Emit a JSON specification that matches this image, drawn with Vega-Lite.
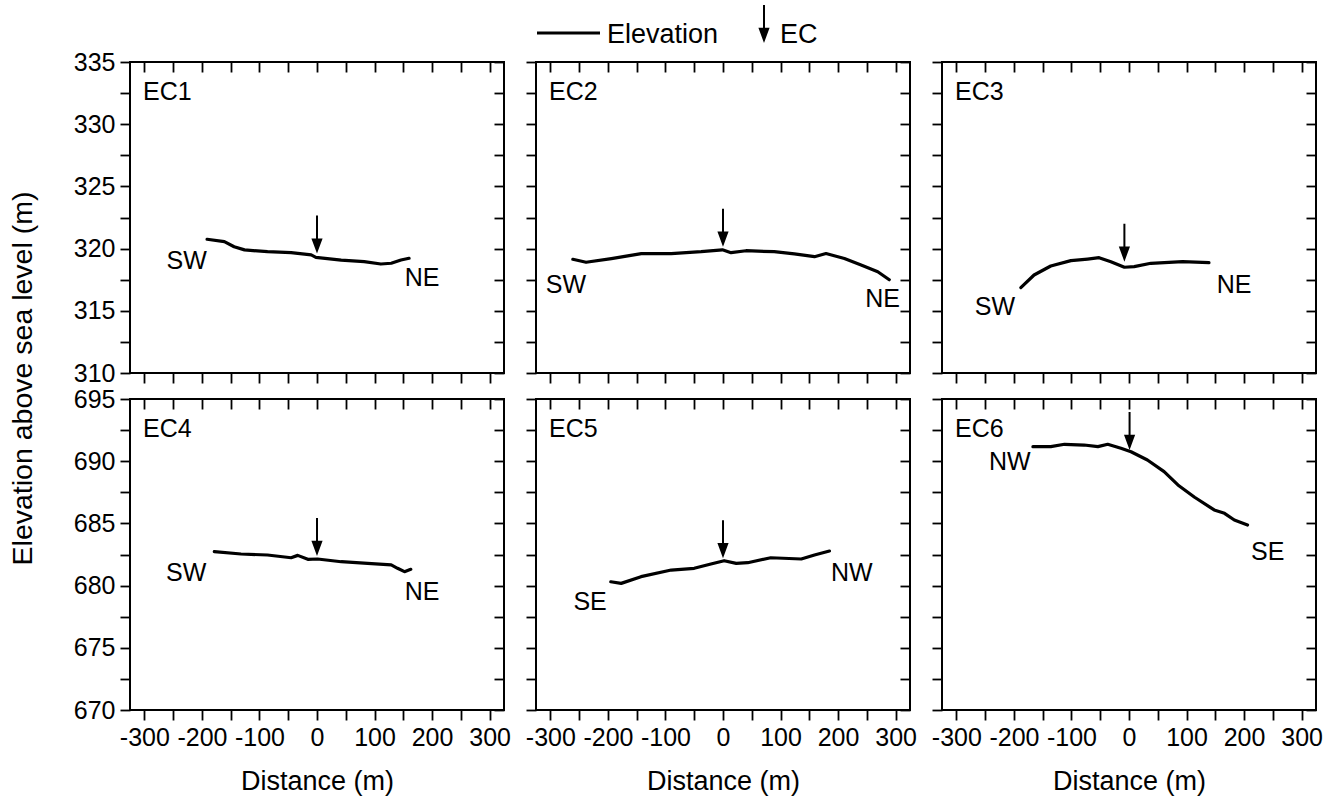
{
  "$schema": "https://vega.github.io/schema/vega-lite/v6.json",
  "padding": {"left": 7, "top": 23, "right": 5, "bottom": 5},
  "background": "white",
  "datasets": {
    "profile": [
      {"panel": "EC1", "d": -191, "elev": 320.75}, {"panel": "EC1", "d": -161, "elev": 320.56}, {"panel": "EC1", "d": -144, "elev": 320.15}, {"panel": "EC1", "d": -126, "elev": 319.9}, {"panel": "EC1", "d": -86, "elev": 319.75}, {"panel": "EC1", "d": -45, "elev": 319.67}, {"panel": "EC1", "d": -10, "elev": 319.49}, {"panel": "EC1", "d": -2, "elev": 319.3}, {"panel": "EC1", "d": 42, "elev": 319.08}, {"panel": "EC1", "d": 82, "elev": 318.95}, {"panel": "EC1", "d": 111, "elev": 318.76}, {"panel": "EC1", "d": 129, "elev": 318.82}, {"panel": "EC1", "d": 146, "elev": 319.08}, {"panel": "EC1", "d": 160, "elev": 319.22},
      {"panel": "EC2", "d": -261, "elev": 319.14}, {"panel": "EC2", "d": -238, "elev": 318.9}, {"panel": "EC2", "d": -194, "elev": 319.2}, {"panel": "EC2", "d": -142, "elev": 319.6}, {"panel": "EC2", "d": -90, "elev": 319.6}, {"panel": "EC2", "d": -38, "elev": 319.75}, {"panel": "EC2", "d": -1, "elev": 319.9}, {"panel": "EC2", "d": 14, "elev": 319.67}, {"panel": "EC2", "d": 40, "elev": 319.83}, {"panel": "EC2", "d": 89, "elev": 319.75}, {"panel": "EC2", "d": 124, "elev": 319.57}, {"panel": "EC2", "d": 159, "elev": 319.35}, {"panel": "EC2", "d": 179, "elev": 319.6}, {"panel": "EC2", "d": 211, "elev": 319.2}, {"panel": "EC2", "d": 240, "elev": 318.68}, {"panel": "EC2", "d": 269, "elev": 318.14}, {"panel": "EC2", "d": 289, "elev": 317.5},
      {"panel": "EC3", "d": -188, "elev": 316.86}, {"panel": "EC3", "d": -165, "elev": 317.88}, {"panel": "EC3", "d": -136, "elev": 318.6}, {"panel": "EC3", "d": -101, "elev": 319.03}, {"panel": "EC3", "d": -72, "elev": 319.16}, {"panel": "EC3", "d": -52, "elev": 319.27}, {"panel": "EC3", "d": -31.5, "elev": 318.95}, {"panel": "EC3", "d": -8, "elev": 318.5}, {"panel": "EC3", "d": 9, "elev": 318.55}, {"panel": "EC3", "d": 38, "elev": 318.82}, {"panel": "EC3", "d": 93, "elev": 318.95}, {"panel": "EC3", "d": 139, "elev": 318.87},
      {"panel": "EC4", "d": -178.5, "elev": 682.73}, {"panel": "EC4", "d": -132, "elev": 682.54}, {"panel": "EC4", "d": -86, "elev": 682.46}, {"panel": "EC4", "d": -45, "elev": 682.24}, {"panel": "EC4", "d": -33.5, "elev": 682.43}, {"panel": "EC4", "d": -16, "elev": 682.11}, {"panel": "EC4", "d": 1, "elev": 682.14}, {"panel": "EC4", "d": 42, "elev": 681.92}, {"panel": "EC4", "d": 88, "elev": 681.79}, {"panel": "EC4", "d": 129, "elev": 681.66}, {"panel": "EC4", "d": 140, "elev": 681.39}, {"panel": "EC4", "d": 152, "elev": 681.12}, {"panel": "EC4", "d": 163, "elev": 681.31},
      {"panel": "EC5", "d": -195, "elev": 680.31}, {"panel": "EC5", "d": -177, "elev": 680.18}, {"panel": "EC5", "d": -142.5, "elev": 680.72}, {"panel": "EC5", "d": -90, "elev": 681.25}, {"panel": "EC5", "d": -50, "elev": 681.39}, {"panel": "EC5", "d": -21, "elev": 681.74}, {"panel": "EC5", "d": 2, "elev": 682.0}, {"panel": "EC5", "d": 23, "elev": 681.79}, {"panel": "EC5", "d": 43, "elev": 681.84}, {"panel": "EC5", "d": 83, "elev": 682.24}, {"panel": "EC5", "d": 136, "elev": 682.14}, {"panel": "EC5", "d": 159, "elev": 682.46}, {"panel": "EC5", "d": 185, "elev": 682.78},
      {"panel": "EC6", "d": -167, "elev": 691.17}, {"panel": "EC6", "d": -136, "elev": 691.17}, {"panel": "EC6", "d": -112, "elev": 691.36}, {"panel": "EC6", "d": -78, "elev": 691.3}, {"panel": "EC6", "d": -54, "elev": 691.17}, {"panel": "EC6", "d": -37, "elev": 691.36}, {"panel": "EC6", "d": -14, "elev": 691.04}, {"panel": "EC6", "d": 3.5, "elev": 690.76}, {"panel": "EC6", "d": 32, "elev": 690.1}, {"panel": "EC6", "d": 61, "elev": 689.16}, {"panel": "EC6", "d": 85, "elev": 688.09}, {"panel": "EC6", "d": 114, "elev": 687.1}, {"panel": "EC6", "d": 148, "elev": 686.08}, {"panel": "EC6", "d": 166, "elev": 685.81}, {"panel": "EC6", "d": 183, "elev": 685.27}, {"panel": "EC6", "d": 206, "elev": 684.87}
    ],
    "arrows": [
      {"panel": "EC1", "d": 0, "elev": 319.6, "kind": "EC"},
      {"panel": "EC2", "d": 0, "elev": 320.15, "kind": "EC"},
      {"panel": "EC3", "d": -8, "elev": 318.95, "kind": "EC"},
      {"panel": "EC4", "d": 0, "elev": 682.38, "kind": "EC"},
      {"panel": "EC5", "d": 0, "elev": 682.2, "kind": "EC"},
      {"panel": "EC6", "d": 1, "elev": 690.9, "kind": "EC"}
    ],
    "labels": [
      {"panel": "EC1", "d": -260, "elev": 332.6, "label": "EC1"}, {"panel": "EC1", "d": -226.5, "elev": 319.0, "label": "SW"}, {"panel": "EC1", "d": 182.5, "elev": 317.6, "label": "NE"},
      {"panel": "EC2", "d": -260, "elev": 332.6, "label": "EC2"}, {"panel": "EC2", "d": -273, "elev": 317.1, "label": "SW"}, {"panel": "EC2", "d": 277.5, "elev": 315.95, "label": "NE"},
      {"panel": "EC3", "d": -260, "elev": 332.6, "label": "EC3"}, {"panel": "EC3", "d": -233, "elev": 315.33, "label": "SW"}, {"panel": "EC3", "d": 182.5, "elev": 317.07, "label": "NE"},
      {"panel": "EC4", "d": -260, "elev": 692.6, "label": "EC4"}, {"panel": "EC4", "d": -227.5, "elev": 681.0, "label": "SW"}, {"panel": "EC4", "d": 182.5, "elev": 679.5, "label": "NE"},
      {"panel": "EC5", "d": -260, "elev": 692.6, "label": "EC5"}, {"panel": "EC5", "d": -231, "elev": 678.7, "label": "SE"}, {"panel": "EC5", "d": 224, "elev": 681.05, "label": "NW"},
      {"panel": "EC6", "d": -260, "elev": 692.6, "label": "EC6"}, {"panel": "EC6", "d": -207, "elev": 689.9, "label": "NW"}, {"panel": "EC6", "d": 241, "elev": 682.7, "label": "SE"}
    ]
  },
  "columns": 3,
  "bounds": "flush",
  "spacing": {"row": 26, "column": 32},
  "resolve": {"scale": {"shape": "shared"}, "legend": {"shape": "shared"}},
  "concat": [
    {
      "width": 374, "height": 311,
      "layer": [
        {"data": {"name": "profile"}, "transform": [{"filter": "datum.panel === 'EC1'"}],
         "mark": {"type": "line", "color": "black", "strokeWidth": 3.2, "strokeJoin": "round", "strokeCap": "round"},
         "encoding": {
           "x": {"field": "d", "type": "quantitative", "scale": {"domain": [-325, 325], "nice": false, "zero": false}, "axis": {"orient": "bottom", "values": [-300,-250,-200,-150,-100,-50,0,50,100,150,200,250,300], "labels": false, "title": null}},
           "y": {"field": "elev", "type": "quantitative", "scale": {"domain": [310, 335], "nice": false, "zero": false}, "axis": {"orient": "left", "values": [310,312.5,315,317.5,320,322.5,325,327.5,330,332.5,335], "labelExpr": "datum.value % 5 === 0 ? '' + datum.value : ''", "labelOverlap": false, "title": "Elevation above sea level (m)", "titleY": 316}}
         }},
        {"data": {"name": "arrows"}, "transform": [{"filter": "datum.panel === 'EC1'"}],
         "mark": {"type": "point", "filled": true, "color": "black", "strokeWidth": 0, "size": 1600, "opacity": 1},
         "encoding": {
           "x": {"field": "d", "type": "quantitative", "scale": {"domain": [-325, 325], "nice": false, "zero": false}, "axis": {"orient": "top", "values": [-300,-250,-200,-150,-100,-50,0,50,100,150,200,250,300], "labels": false, "title": null, "tickSize": -10}},
           "y": {"field": "elev", "type": "quantitative", "scale": {"domain": [310, 335], "nice": false, "zero": false}, "axis": {"orient": "right", "values": [310,312.5,315,317.5,320,322.5,325,327.5,330,332.5,335], "labels": false, "title": null, "tickSize": -10}},
           "shape": {"field": "kind", "type": "nominal", "scale": {"domain": ["Elevation", "EC"], "range": ["M-2.7,-0.58L0.45,-0.58L0.45,-0.42L-2.7,-0.42Z", "M-0.05,-1.9L0.05,-1.9L0.05,-0.7L-0.05,-0.7ZM-0.28,-0.76L0.28,-0.76L0,0Z"]},
             "legend": {"title": null, "orient": "none", "legendX": 441, "legendY": -39, "direction": "horizontal", "symbolSize": 1600, "labelOffset": -4, "columnPadding": 25, "labelFont": "Liberation Sans", "labelFontSize": 27, "labelColor": "black", "labelBaseline": "alphabetic", "symbolOpacity": 1, "symbolFillColor": "black", "symbolStrokeWidth": 0}}
         }},
        {"data": {"name": "labels"}, "transform": [{"filter": "datum.panel === 'EC1'"}],
         "mark": {"type": "text", "font": "Liberation Sans", "fontSize": 25, "color": "black", "align": "center", "baseline": "middle"},
         "encoding": {
           "x": {"field": "d", "type": "quantitative", "scale": {"domain": [-325, 325], "nice": false, "zero": false}, "axis": null},
           "y": {"field": "elev", "type": "quantitative", "scale": {"domain": [310, 335], "nice": false, "zero": false}, "axis": null},
           "text": {"field": "label"}
         }}
      ],
      "resolve": {"axis": {"x": "independent", "y": "independent"}}
    },
    {
      "width": 374, "height": 311,
      "layer": [
        {"data": {"name": "profile"}, "transform": [{"filter": "datum.panel === 'EC2'"}],
         "mark": {"type": "line", "color": "black", "strokeWidth": 3.2, "strokeJoin": "round", "strokeCap": "round"},
         "encoding": {
           "x": {"field": "d", "type": "quantitative", "scale": {"domain": [-325, 325], "nice": false, "zero": false}, "axis": {"orient": "bottom", "values": [-300,-250,-200,-150,-100,-50,0,50,100,150,200,250,300], "labels": false, "title": null}},
           "y": {"field": "elev", "type": "quantitative", "scale": {"domain": [310, 335], "nice": false, "zero": false}, "axis": {"orient": "left", "values": [310,312.5,315,317.5,320,322.5,325,327.5,330,332.5,335], "labels": false, "title": null}}
         }},
        {"data": {"name": "arrows"}, "transform": [{"filter": "datum.panel === 'EC2'"}],
         "mark": {"type": "point", "filled": true, "color": "black", "strokeWidth": 0, "size": 1600, "opacity": 1},
         "encoding": {
           "x": {"field": "d", "type": "quantitative", "scale": {"domain": [-325, 325], "nice": false, "zero": false}, "axis": {"orient": "top", "values": [-300,-250,-200,-150,-100,-50,0,50,100,150,200,250,300], "labels": false, "title": null, "tickSize": -10}},
           "y": {"field": "elev", "type": "quantitative", "scale": {"domain": [310, 335], "nice": false, "zero": false}, "axis": {"orient": "right", "values": [310,312.5,315,317.5,320,322.5,325,327.5,330,332.5,335], "labels": false, "title": null, "tickSize": -10}},
           "shape": {"field": "kind", "type": "nominal", "scale": {"domain": ["Elevation", "EC"], "range": ["M-2.7,-0.58L0.45,-0.58L0.45,-0.42L-2.7,-0.42Z", "M-0.05,-1.9L0.05,-1.9L0.05,-0.7L-0.05,-0.7ZM-0.28,-0.76L0.28,-0.76L0,0Z"]},
             "legend": {"title": null, "orient": "none", "legendX": 441, "legendY": -39, "direction": "horizontal", "symbolSize": 1600, "labelOffset": -4, "columnPadding": 25, "labelFont": "Liberation Sans", "labelFontSize": 27, "labelColor": "black", "labelBaseline": "alphabetic", "symbolOpacity": 1, "symbolFillColor": "black", "symbolStrokeWidth": 0}}
         }},
        {"data": {"name": "labels"}, "transform": [{"filter": "datum.panel === 'EC2'"}],
         "mark": {"type": "text", "font": "Liberation Sans", "fontSize": 25, "color": "black", "align": "center", "baseline": "middle"},
         "encoding": {
           "x": {"field": "d", "type": "quantitative", "scale": {"domain": [-325, 325], "nice": false, "zero": false}, "axis": null},
           "y": {"field": "elev", "type": "quantitative", "scale": {"domain": [310, 335], "nice": false, "zero": false}, "axis": null},
           "text": {"field": "label"}
         }}
      ],
      "resolve": {"axis": {"x": "independent", "y": "independent"}}
    },
    {
      "width": 374, "height": 311,
      "layer": [
        {"data": {"name": "profile"}, "transform": [{"filter": "datum.panel === 'EC3'"}],
         "mark": {"type": "line", "color": "black", "strokeWidth": 3.2, "strokeJoin": "round", "strokeCap": "round"},
         "encoding": {
           "x": {"field": "d", "type": "quantitative", "scale": {"domain": [-325, 325], "nice": false, "zero": false}, "axis": {"orient": "bottom", "values": [-300,-250,-200,-150,-100,-50,0,50,100,150,200,250,300], "labels": false, "title": null}},
           "y": {"field": "elev", "type": "quantitative", "scale": {"domain": [310, 335], "nice": false, "zero": false}, "axis": {"orient": "left", "values": [310,312.5,315,317.5,320,322.5,325,327.5,330,332.5,335], "labels": false, "title": null}}
         }},
        {"data": {"name": "arrows"}, "transform": [{"filter": "datum.panel === 'EC3'"}],
         "mark": {"type": "point", "filled": true, "color": "black", "strokeWidth": 0, "size": 1600, "opacity": 1},
         "encoding": {
           "x": {"field": "d", "type": "quantitative", "scale": {"domain": [-325, 325], "nice": false, "zero": false}, "axis": {"orient": "top", "values": [-300,-250,-200,-150,-100,-50,0,50,100,150,200,250,300], "labels": false, "title": null, "tickSize": -10}},
           "y": {"field": "elev", "type": "quantitative", "scale": {"domain": [310, 335], "nice": false, "zero": false}, "axis": {"orient": "right", "values": [310,312.5,315,317.5,320,322.5,325,327.5,330,332.5,335], "labels": false, "title": null, "tickSize": -10}},
           "shape": {"field": "kind", "type": "nominal", "scale": {"domain": ["Elevation", "EC"], "range": ["M-2.7,-0.58L0.45,-0.58L0.45,-0.42L-2.7,-0.42Z", "M-0.05,-1.9L0.05,-1.9L0.05,-0.7L-0.05,-0.7ZM-0.28,-0.76L0.28,-0.76L0,0Z"]},
             "legend": {"title": null, "orient": "none", "legendX": 441, "legendY": -39, "direction": "horizontal", "symbolSize": 1600, "labelOffset": -4, "columnPadding": 25, "labelFont": "Liberation Sans", "labelFontSize": 27, "labelColor": "black", "labelBaseline": "alphabetic", "symbolOpacity": 1, "symbolFillColor": "black", "symbolStrokeWidth": 0}}
         }},
        {"data": {"name": "labels"}, "transform": [{"filter": "datum.panel === 'EC3'"}],
         "mark": {"type": "text", "font": "Liberation Sans", "fontSize": 25, "color": "black", "align": "center", "baseline": "middle"},
         "encoding": {
           "x": {"field": "d", "type": "quantitative", "scale": {"domain": [-325, 325], "nice": false, "zero": false}, "axis": null},
           "y": {"field": "elev", "type": "quantitative", "scale": {"domain": [310, 335], "nice": false, "zero": false}, "axis": null},
           "text": {"field": "label"}
         }}
      ],
      "resolve": {"axis": {"x": "independent", "y": "independent"}}
    },
    {
      "width": 374, "height": 311,
      "layer": [
        {"data": {"name": "profile"}, "transform": [{"filter": "datum.panel === 'EC4'"}],
         "mark": {"type": "line", "color": "black", "strokeWidth": 3.2, "strokeJoin": "round", "strokeCap": "round"},
         "encoding": {
           "x": {"field": "d", "type": "quantitative", "scale": {"domain": [-325, 325], "nice": false, "zero": false}, "axis": {"orient": "bottom", "values": [-300,-250,-200,-150,-100,-50,0,50,100,150,200,250,300], "labelExpr": "datum.value % 100 === 0 ? '' + datum.value : ''", "labelOverlap": false, "title": "Distance (m)"}},
           "y": {"field": "elev", "type": "quantitative", "scale": {"domain": [670, 695], "nice": false, "zero": false}, "axis": {"orient": "left", "values": [670,672.5,675,677.5,680,682.5,685,687.5,690,692.5,695], "labelExpr": "datum.value % 5 === 0 ? '' + datum.value : ''", "labelOverlap": false, "title": null}}
         }},
        {"data": {"name": "arrows"}, "transform": [{"filter": "datum.panel === 'EC4'"}],
         "mark": {"type": "point", "filled": true, "color": "black", "strokeWidth": 0, "size": 1600, "opacity": 1},
         "encoding": {
           "x": {"field": "d", "type": "quantitative", "scale": {"domain": [-325, 325], "nice": false, "zero": false}, "axis": {"orient": "top", "values": [-300,-250,-200,-150,-100,-50,0,50,100,150,200,250,300], "labels": false, "title": null, "tickSize": -10}},
           "y": {"field": "elev", "type": "quantitative", "scale": {"domain": [670, 695], "nice": false, "zero": false}, "axis": {"orient": "right", "values": [670,672.5,675,677.5,680,682.5,685,687.5,690,692.5,695], "labels": false, "title": null, "tickSize": -10}},
           "shape": {"field": "kind", "type": "nominal", "scale": {"domain": ["Elevation", "EC"], "range": ["M-2.7,-0.58L0.45,-0.58L0.45,-0.42L-2.7,-0.42Z", "M-0.05,-1.9L0.05,-1.9L0.05,-0.7L-0.05,-0.7ZM-0.28,-0.76L0.28,-0.76L0,0Z"]},
             "legend": {"title": null, "orient": "none", "legendX": 441, "legendY": -39, "direction": "horizontal", "symbolSize": 1600, "labelOffset": -4, "columnPadding": 25, "labelFont": "Liberation Sans", "labelFontSize": 27, "labelColor": "black", "labelBaseline": "alphabetic", "symbolOpacity": 1, "symbolFillColor": "black", "symbolStrokeWidth": 0}}
         }},
        {"data": {"name": "labels"}, "transform": [{"filter": "datum.panel === 'EC4'"}],
         "mark": {"type": "text", "font": "Liberation Sans", "fontSize": 25, "color": "black", "align": "center", "baseline": "middle"},
         "encoding": {
           "x": {"field": "d", "type": "quantitative", "scale": {"domain": [-325, 325], "nice": false, "zero": false}, "axis": null},
           "y": {"field": "elev", "type": "quantitative", "scale": {"domain": [670, 695], "nice": false, "zero": false}, "axis": null},
           "text": {"field": "label"}
         }}
      ],
      "resolve": {"axis": {"x": "independent", "y": "independent"}}
    },
    {
      "width": 374, "height": 311,
      "layer": [
        {"data": {"name": "profile"}, "transform": [{"filter": "datum.panel === 'EC5'"}],
         "mark": {"type": "line", "color": "black", "strokeWidth": 3.2, "strokeJoin": "round", "strokeCap": "round"},
         "encoding": {
           "x": {"field": "d", "type": "quantitative", "scale": {"domain": [-325, 325], "nice": false, "zero": false}, "axis": {"orient": "bottom", "values": [-300,-250,-200,-150,-100,-50,0,50,100,150,200,250,300], "labelExpr": "datum.value % 100 === 0 ? '' + datum.value : ''", "labelOverlap": false, "title": "Distance (m)"}},
           "y": {"field": "elev", "type": "quantitative", "scale": {"domain": [670, 695], "nice": false, "zero": false}, "axis": {"orient": "left", "values": [670,672.5,675,677.5,680,682.5,685,687.5,690,692.5,695], "labels": false, "title": null}}
         }},
        {"data": {"name": "arrows"}, "transform": [{"filter": "datum.panel === 'EC5'"}],
         "mark": {"type": "point", "filled": true, "color": "black", "strokeWidth": 0, "size": 1600, "opacity": 1},
         "encoding": {
           "x": {"field": "d", "type": "quantitative", "scale": {"domain": [-325, 325], "nice": false, "zero": false}, "axis": {"orient": "top", "values": [-300,-250,-200,-150,-100,-50,0,50,100,150,200,250,300], "labels": false, "title": null, "tickSize": -10}},
           "y": {"field": "elev", "type": "quantitative", "scale": {"domain": [670, 695], "nice": false, "zero": false}, "axis": {"orient": "right", "values": [670,672.5,675,677.5,680,682.5,685,687.5,690,692.5,695], "labels": false, "title": null, "tickSize": -10}},
           "shape": {"field": "kind", "type": "nominal", "scale": {"domain": ["Elevation", "EC"], "range": ["M-2.7,-0.58L0.45,-0.58L0.45,-0.42L-2.7,-0.42Z", "M-0.05,-1.9L0.05,-1.9L0.05,-0.7L-0.05,-0.7ZM-0.28,-0.76L0.28,-0.76L0,0Z"]},
             "legend": {"title": null, "orient": "none", "legendX": 441, "legendY": -39, "direction": "horizontal", "symbolSize": 1600, "labelOffset": -4, "columnPadding": 25, "labelFont": "Liberation Sans", "labelFontSize": 27, "labelColor": "black", "labelBaseline": "alphabetic", "symbolOpacity": 1, "symbolFillColor": "black", "symbolStrokeWidth": 0}}
         }},
        {"data": {"name": "labels"}, "transform": [{"filter": "datum.panel === 'EC5'"}],
         "mark": {"type": "text", "font": "Liberation Sans", "fontSize": 25, "color": "black", "align": "center", "baseline": "middle"},
         "encoding": {
           "x": {"field": "d", "type": "quantitative", "scale": {"domain": [-325, 325], "nice": false, "zero": false}, "axis": null},
           "y": {"field": "elev", "type": "quantitative", "scale": {"domain": [670, 695], "nice": false, "zero": false}, "axis": null},
           "text": {"field": "label"}
         }}
      ],
      "resolve": {"axis": {"x": "independent", "y": "independent"}}
    },
    {
      "width": 374, "height": 311,
      "layer": [
        {"data": {"name": "profile"}, "transform": [{"filter": "datum.panel === 'EC6'"}],
         "mark": {"type": "line", "color": "black", "strokeWidth": 3.2, "strokeJoin": "round", "strokeCap": "round"},
         "encoding": {
           "x": {"field": "d", "type": "quantitative", "scale": {"domain": [-325, 325], "nice": false, "zero": false}, "axis": {"orient": "bottom", "values": [-300,-250,-200,-150,-100,-50,0,50,100,150,200,250,300], "labelExpr": "datum.value % 100 === 0 ? '' + datum.value : ''", "labelOverlap": false, "title": "Distance (m)"}},
           "y": {"field": "elev", "type": "quantitative", "scale": {"domain": [670, 695], "nice": false, "zero": false}, "axis": {"orient": "left", "values": [670,672.5,675,677.5,680,682.5,685,687.5,690,692.5,695], "labels": false, "title": null}}
         }},
        {"data": {"name": "arrows"}, "transform": [{"filter": "datum.panel === 'EC6'"}],
         "mark": {"type": "point", "filled": true, "color": "black", "strokeWidth": 0, "size": 1600, "opacity": 1},
         "encoding": {
           "x": {"field": "d", "type": "quantitative", "scale": {"domain": [-325, 325], "nice": false, "zero": false}, "axis": {"orient": "top", "values": [-300,-250,-200,-150,-100,-50,0,50,100,150,200,250,300], "labels": false, "title": null, "tickSize": -10}},
           "y": {"field": "elev", "type": "quantitative", "scale": {"domain": [670, 695], "nice": false, "zero": false}, "axis": {"orient": "right", "values": [670,672.5,675,677.5,680,682.5,685,687.5,690,692.5,695], "labels": false, "title": null, "tickSize": -10}},
           "shape": {"field": "kind", "type": "nominal", "scale": {"domain": ["Elevation", "EC"], "range": ["M-2.7,-0.58L0.45,-0.58L0.45,-0.42L-2.7,-0.42Z", "M-0.05,-1.9L0.05,-1.9L0.05,-0.7L-0.05,-0.7ZM-0.28,-0.76L0.28,-0.76L0,0Z"]},
             "legend": {"title": null, "orient": "none", "legendX": 441, "legendY": -39, "direction": "horizontal", "symbolSize": 1600, "labelOffset": -4, "columnPadding": 25, "labelFont": "Liberation Sans", "labelFontSize": 27, "labelColor": "black", "labelBaseline": "alphabetic", "symbolOpacity": 1, "symbolFillColor": "black", "symbolStrokeWidth": 0}}
         }},
        {"data": {"name": "labels"}, "transform": [{"filter": "datum.panel === 'EC6'"}],
         "mark": {"type": "text", "font": "Liberation Sans", "fontSize": 25, "color": "black", "align": "center", "baseline": "middle"},
         "encoding": {
           "x": {"field": "d", "type": "quantitative", "scale": {"domain": [-325, 325], "nice": false, "zero": false}, "axis": null},
           "y": {"field": "elev", "type": "quantitative", "scale": {"domain": [670, 695], "nice": false, "zero": false}, "axis": null},
           "text": {"field": "label"}
         }}
      ],
      "resolve": {"axis": {"x": "independent", "y": "independent"}}
    }
  ],
  "config": {
    "view": {"stroke": "black", "strokeWidth": 2},
    "axis": {"domain": false, "grid": false, "ticks": true, "tickColor": "black", "tickWidth": 1.8, "tickSize": 10, "labelFont": "Liberation Sans", "labelFontSize": 25, "labelColor": "black", "titleFont": "Liberation Sans", "titleFontSize": 27, "titleFontWeight": "normal", "titleColor": "black"},
    "axisX": {"labelPadding": 5, "titlePadding": 18},
    "axisY": {"labelPadding": 5, "titlePadding": 36, "titleFontSize": 28.5},
    "text": {"font": "Liberation Sans"}
  }
}
